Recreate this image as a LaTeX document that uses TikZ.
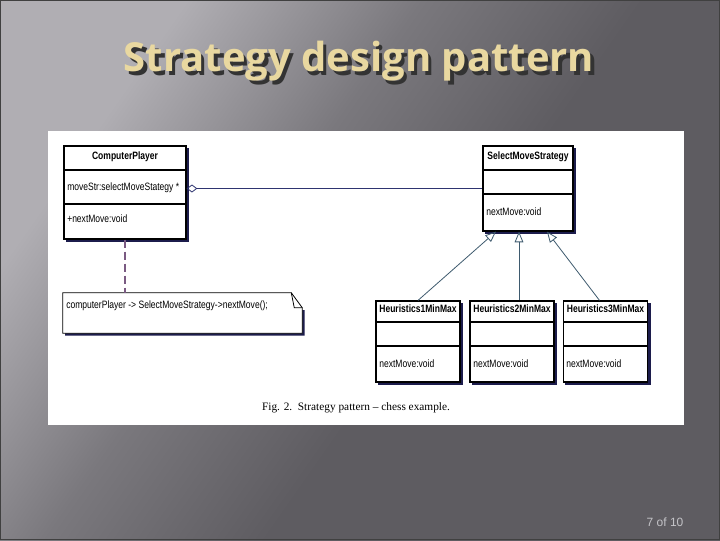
\documentclass[tikz,border=0pt]{standalone}
\usepackage{fontspec}
\setmainfont{Liberation Sans}
\newfontfamily\titlefont{Open Sans}
\newfontfamily\capfont{Liberation Serif}
\usetikzlibrary{arrows.meta,shadows,calc}
\definecolor{bgA}{HTML}{B0AEB3}
\definecolor{bgB}{HTML}{7A787D}
\definecolor{bgC}{HTML}{5E5C61}
\definecolor{titlec}{HTML}{E9D8A0}
\definecolor{shadowc}{HTML}{1C1C4C}
\definecolor{aggc}{HTML}{2E3470}
\definecolor{genc}{HTML}{3E5A6E}
\definecolor{depc}{HTML}{7A5A82}
\definecolor{pagec}{HTML}{C4C4C8}
\pgfdeclarehorizontalshading{bgshade}{100bp}{color(0bp)=(bgA); color(27bp)=(bgA); color(42bp)=(bgB); color(56bp)=(bgC); color(100bp)=(bgC)}
\newcommand{\umlt}[1]{\scalebox{0.8}[1]{\fontsize{8}{9}\selectfont #1}}
\newcommand{\umlb}[1]{\scalebox{0.8}[1]{\fontsize{8}{9}\selectfont\bfseries #1}}
\tikzset{
  umlbox/.style={draw=black, line width=0.9pt, fill=white, inner sep=0pt,
    copy shadow={shadow xshift=1.8pt, shadow yshift=-1.8pt, fill=shadowc, draw=shadowc}},
  divider/.style={draw=black, line width=0.9pt},
  umltext/.style={inner sep=0pt, anchor=west, text=black},
  umltitle/.style={inner sep=0pt, text=black},
  aggline/.style={draw=aggc, line width=0.6pt, {Diamond[open, length=8pt, width=6pt, line width=0.6pt]}-},
  genline/.style={draw=genc, line width=0.6pt, -{Triangle[open, length=8pt, width=6.5pt, line width=0.6pt]}},
  depline/.style={draw=depc, line width=0.9pt, dash pattern=on 6pt off 3pt},
  titletext/.style={font=\titlefont\bfseries\fontsize{30}{34}\selectfont, inner sep=0pt}
}
\begin{document}
\begin{tikzpicture}[x=0.75pt, y=-0.75pt]
\useasboundingbox (0,0) rectangle (720,540);
% background
\shade[shading=bgshade, shading angle=-35] (0,0) rectangle (720,540);
\draw[draw=black!75, line width=1pt] (0.5,0.5) rectangle (719.5,539.5);
% title with shadow
\node[titletext, text=titlec] (title) at (359,63)
  {\makebox[0pt][l]{\hspace{2.5pt}\raisebox{-2.5pt}{\textcolor{black!80}{Strategy design pattern}}}Strategy design pattern};
% white panel
\fill[white] (48,131) rectangle (684,425);
% ComputerPlayer
\node[umlbox, minimum width=91.5pt, minimum height=69.75pt] (cp) at (125,192.5) {};
\draw[divider] (64,170) -- (186,170);
\draw[divider] (64,204) -- (186,204);
\node[umltitle] (cpname) at (125,157) {\umlb{ComputerPlayer}};
\node[umltext] (cpattr) at (67,188) {\umlt{moveStr:selectMoveStategy *}};
\node[umltext] (cpop) at (67,219) {\umlt{+nextMove:void}};
% SelectMoveStrategy
\node[umlbox, minimum width=67.5pt, minimum height=63.75pt] (sms) at (528,188.5) {};
\draw[divider] (483,170) -- (573,170);
\draw[divider] (483,194) -- (573,194);
\node[umltitle] (smsname) at (528,157) {\umlb{SelectMoveStrategy}};
\node[umltext] (smsop) at (486,212) {\umlt{nextMove:void}};
% Heuristics boxes
\node[umlbox, minimum width=63pt, minimum height=60.75pt] (h1) at (418,341.5) {};
\node[umlbox, minimum width=63pt, minimum height=60.75pt] (h2) at (512,341.5) {};
\node[umlbox, minimum width=63pt, minimum height=60.75pt] (h3) at (605.5,341.5) {};
\foreach \cx in {418,512,605.5}{
  \draw[divider] (\cx-42,322) -- (\cx+42,322);
  \draw[divider] (\cx-42,346) -- (\cx+42,346);
}
\node[umltitle] (h1name) at (418,309) {\umlb{Heuristics1MinMax}};
\node[umltitle] (h2name) at (512,309) {\umlb{Heuristics2MinMax}};
\node[umltitle] (h3name) at (605.5,309) {\umlb{Heuristics3MinMax}};
\node[umltext] (h1op) at (379,364) {\umlt{nextMove:void}};
\node[umltext] (h2op) at (473,364) {\umlt{nextMove:void}};
\node[umltext] (h3op) at (566,364) {\umlt{nextMove:void}};
% note
\node[inner sep=0pt, minimum width=179.25pt, minimum height=30pt] (note) at (182.5,313) {};
\fill[shadowc] ($(note.north west)+(2.4,2.4)$) -- ($(note.north east)+(2.4,2.4+15)$) -- ($(note.south east)+(2.4,2.4)$) -- ($(note.south west)+(2.4,2.4)$) -- cycle;
\draw[fill=white, line width=0.6pt] (note.north west) -- ($(note.north east)+(-11,0)$) -- ($(note.north east)+(0,15)$) -- (note.south east) -- (note.south west) -- cycle;
\draw[line width=0.6pt] ($(note.north east)+(-11,0)$) -- ($(note.north east)+(-8,15)$) -- ($(note.north east)+(0,15)$);
\node[umltext] (notetext) at (66,306) {\umlt{computerPlayer -> SelectMoveStrategy->nextMove();}};
% connectors
\draw[aggline] (cp.east |- sms.west) -- (sms.west);
\draw[depline] (cp.south) -- (cp.south |- note.north);
\draw[genline] (h1.north) -- ([xshift=-24pt]sms.south);
\draw[genline] ([xshift=5.25pt]h2.north) -- ([xshift=-6.75pt]sms.south);
\draw[genline] ([xshift=-4.5pt]h3.north) -- ([xshift=14.25pt]sms.south);
% caption
\node[inner sep=0pt, font=\capfont\fontsize{8.5}{10}\selectfont] (caption) at (356,408) {Fig. 2.\ \ Strategy pattern – chess example.};
% page number
\node[text=pagec, inner sep=0pt, font=\fontsize{9}{10}\selectfont] (page) at (665,522) {7 of 10};
\end{tikzpicture}
\end{document}
